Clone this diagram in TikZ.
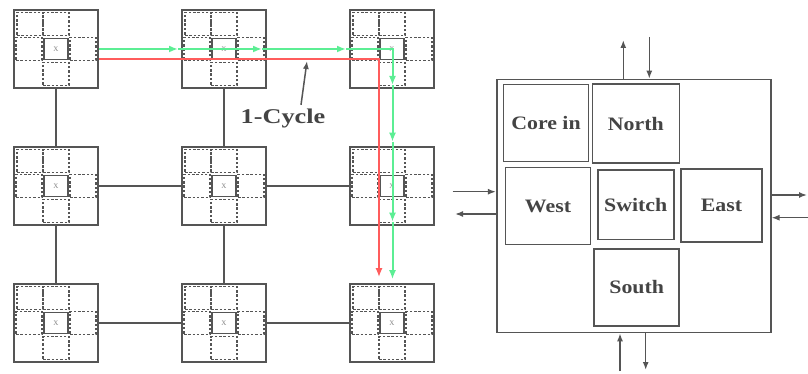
\documentclass[tikz,border=0pt]{standalone}
\usepackage{fontspec}
\setmainfont{Liberation Serif}
\newfontfamily\blockfont[FakeStretch=1.15]{Liberation Serif}
\newfontfamily\cyclefont[FakeStretch=1.25]{Liberation Serif}
\usetikzlibrary{arrows.meta}
\definecolor{linegray}{HTML}{555555}
\definecolor{textgray}{HTML}{444444}
\definecolor{pathgreen}{HTML}{5CEE94}
\definecolor{pathred}{HTML}{FF5C5C}
\tikzset{
  router/.style={draw=linegray,line width=1.6pt,minimum width=84pt,minimum height=78pt,inner sep=0pt},
  cell/.style={draw=linegray,dash pattern=on 2.5pt off 1.8pt,line width=1.2pt,minimum width=26pt,minimum height=23pt,inner sep=0pt},
  xbox/.style={draw=linegray,line width=1.6pt,minimum width=24pt,minimum height=21pt,inner sep=0pt,
    font=\fontsize{7}{7}\selectfont,text=gray},
  link/.style={draw=linegray,line width=1.5pt},
  gpath/.style={draw=pathgreen,line width=2pt,-{Latex[length=9pt,width=7pt]}},
  rpath/.style={draw=pathred,line width=2pt,-{Latex[length=9pt,width=7pt]}},
  block/.style={draw=linegray,line width=1.6pt,inner sep=0pt,text=textgray,
    font=\blockfont\bfseries\fontsize{19}{19}\selectfont},
  port/.style={draw=linegray,line width=1.5pt,-{Latex[length=8pt,width=6pt]}}
}
\begin{document}
\begin{tikzpicture}[x=1pt,y=-1pt]
  \useasboundingbox (0,0) rectangle (808,374);
  % mesh of routers
  \foreach \c/\x in {1/56,2/224,3/392}
    \foreach \r/\y in {1/49,2/186,3/323} {
      \node[router] (r\c\r) at (\x,\y) {};
      \node[cell] (r\c\r-cin) at ([shift={(-26,-25)}]r\c\r) {};
      \node[cell] (r\c\r-n) at ([shift={(0,-25)}]r\c\r) {};
      \node[cell] (r\c\r-w) at ([shift={(-27,0)}]r\c\r) {};
      \node[cell] (r\c\r-e) at ([shift={(27,0)}]r\c\r) {};
      \node[cell] (r\c\r-s) at ([shift={(0,25)}]r\c\r) {};
      \node[xbox] (r\c\r-x) at (r\c\r) {X};
    }
  \draw[link] (r11) -- (r12);
  \draw[link] (r12) -- (r13);
  \draw[link] (r21) -- (r22);
  \draw[link] (r22) -- (r23);
  \draw[link] (r12) -- (r22);
  \draw[link] (r22) -- (r32);
  \draw[link] (r13) -- (r23);
  \draw[link] (r23) -- (r33);
  % red path
  \draw[rpath] ([yshift=-10pt]r11.east) -| ([xshift=-13pt,yshift=6pt]r33.north);
  % green path
  \coordinate (g1) at (178,49);
  \coordinate (g2) at (262,49);
  \coordinate (g3) at (346,49);
  \coordinate (g5) at (392.5,85);
  \coordinate (g6) at (392.5,141.7);
  \coordinate (g7) at (392.5,221.7);
  \coordinate (g8) at ([xshift=0.5pt,yshift=4pt]r33.north);
  \foreach \a/\b in {r11.east/g1,g1/g2,g2/g3,g5/g6,g6/g7,g7/g8}
    \draw[gpath] (\a) -- (\b);
  \draw[gpath] (g3) -| (g5);
  \node[text=textgray,font=\cyclefont\bfseries\fontsize{21}{21}\selectfont] (cyc) at (283,118) {1-Cycle};
  \coordinate (cyctip) at (307,61);
  \draw[port] ([xshift=18pt]cyc.north) -- (cyctip);

  % router detail
  \node[draw=linegray,line width=1.6pt,minimum width=274pt,minimum height=253pt,inner sep=0pt] (rt) at (633.7,206) {};
  \node[block,minimum width=85pt,minimum height=77pt] (corein) at (546,123) {Core in};
  \node[block,minimum width=87pt,minimum height=79pt] (north) at (635.8,123.8) {North};
  \node[block,minimum width=85pt,minimum height=77pt] (west) at (548,206) {West};
  \node[block,minimum width=76pt,minimum height=69pt] (switch) at (635.7,204.8) {Switch};
  \node[block,minimum width=81pt,minimum height=73pt] (east) at (721.5,205.5) {East};
  \node[block,minimum width=85pt,minimum height=77pt] (south) at (636.7,287.5) {South};
  % ports
  \coordinate (nout) at (623.3,40);
  \coordinate (nin) at (649.3,37);
  \coordinate (win) at (452.7,191.7);
  \coordinate (wout) at (455,214);
  \coordinate (eout) at (807,195);
  \coordinate (ein) at (808,217.7);
  \coordinate (sin) at (620,371);
  \coordinate (sout) at (645.7,370);
  \draw[port] (nout |- rt.north) -- (nout);
  \draw[port] (nin) -- (nin |- rt.north);
  \draw[port] (win) -- (win -| rt.west);
  \draw[port] (wout -| rt.west) -- (wout);
  \draw[port] (eout -| rt.east) -- (eout);
  \draw[port] (ein) -- (ein -| rt.east);
  \draw[port] (sin) -- (sin |- rt.south);
  \draw[port] (sout |- rt.south) -- (sout);
\end{tikzpicture}
\end{document}
